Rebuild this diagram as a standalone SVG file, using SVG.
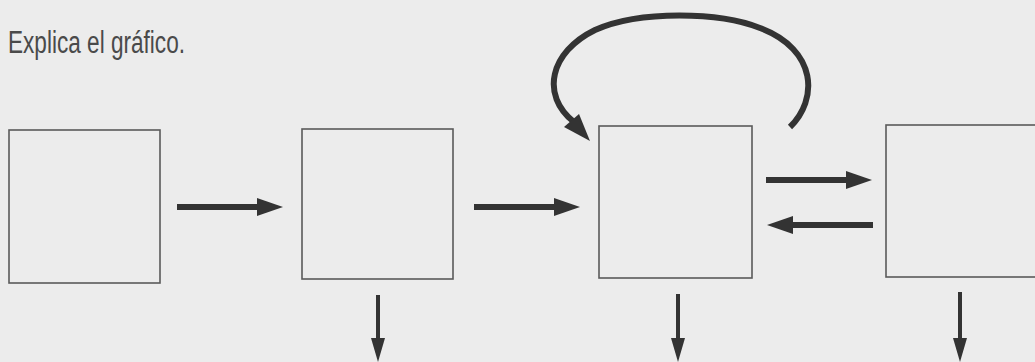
<svg xmlns="http://www.w3.org/2000/svg" width="1035" height="362" viewBox="0 0 1035 362">
<style>
.box{fill:none;stroke:#5a5a5a;stroke-width:1.6}
.thick{stroke:#333;stroke-width:6;fill:none}
.thin{stroke:#333;stroke-width:4;fill:none}
.head{fill:#333}
.title{font-family:"Liberation Sans",Arial,sans-serif;font-size:31px;fill:#4a4a4a}
</style>
<rect x="0" y="0" width="1035" height="362" fill="#ececec"/>
<text class="title" x="8" y="53" textLength="177" lengthAdjust="spacingAndGlyphs">Explica el gráfico.</text>
<g id="node1"><rect class="box" x="9" y="130" width="151" height="153"/></g>
<g id="node2"><rect class="box" x="302" y="129" width="151" height="150"/></g>
<g id="node3"><rect class="box" x="599" y="126" width="153" height="152"/></g>
<g id="node4"><rect class="box" x="886" y="125" width="160" height="152"/></g>
<g id="connectors">
  <line class="thick" x1="177" y1="207" x2="260" y2="207"/>
  <polygon class="head" points="283,207 257,198 257,216"/>
  <line class="thick" x1="474" y1="207" x2="557" y2="207"/>
  <polygon class="head" points="580,207 554,198 554,216"/>
  <line class="thick" x1="766" y1="180" x2="848" y2="180"/>
  <polygon class="head" points="872,180 846,171 846,189"/>
  <line class="thick" x1="873" y1="225" x2="791" y2="225"/>
  <polygon class="head" points="767,225 793,216 793,234"/>
  <line class="thin" x1="378" y1="295" x2="378" y2="342"/>
  <polygon class="head" points="378,362 371,338 385,338"/>
  <line class="thin" x1="678" y1="294" x2="678" y2="342"/>
  <polygon class="head" points="678,362 671,338 685,338"/>
  <line class="thin" x1="960" y1="292" x2="960" y2="342"/>
  <polygon class="head" points="960,362 953,338 967,338"/>
  <path class="thick" stroke-width="5" d="M790,127 C818,100 818,50 760,28 C720,12 640,10 595,30 C550,52 540,95 574,122"/>
  <polygon class="head" points="590,141 564,127 579,114"/>
</g>
</svg>
